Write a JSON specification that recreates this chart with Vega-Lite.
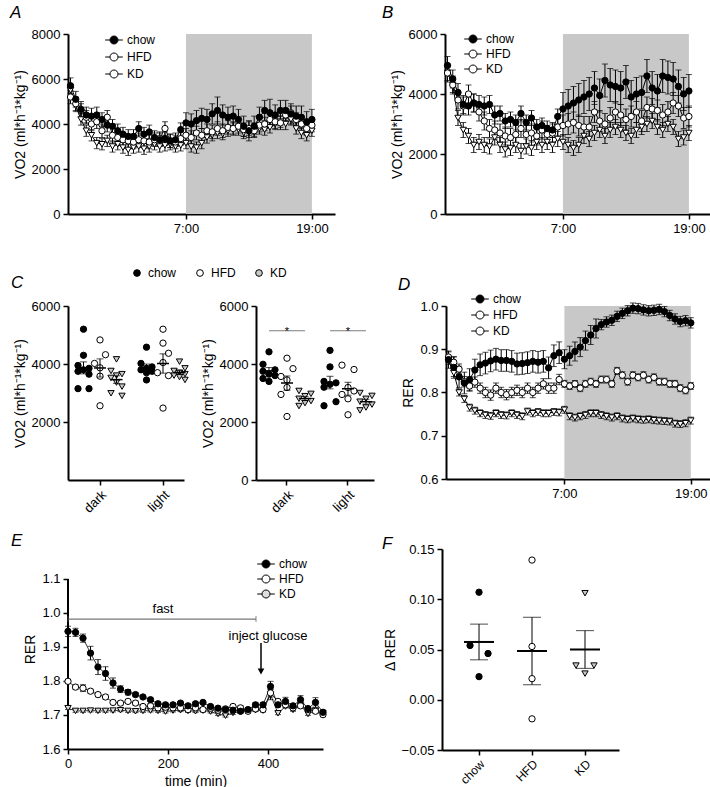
{
"$schema":"https://vega.github.io/schema/vega-lite/v6.json",
"padding":{"left":10,"top":4,"right":0,"bottom":0},
"config":{"font":"Liberation Sans","view":{"stroke":null},
"axis":{"domainColor":"black","domainWidth":2,"tickColor":"black","tickWidth":1.5,"tickSize":5,"labelColor":"black","labelFontSize":13,"titleColor":"black","titleFontSize":14,"titleFontWeight":"normal","grid":false,"labelPadding":3,"labelFlush":false,"labelOverlap":false},
"legend":{"padding":0,"labelFontSize":12,"labelColor":"black","symbolStrokeColor":"black","symbolStrokeWidth":1},
"title":{"fontStyle":"italic","fontWeight":"normal","fontSize":17,"anchor":"start","frame":"group","color":"black"}},
"datasets":{
"A":[
{"t":-11,"g":"KD","v":5500,"e":250},{"t":-10.5,"g":"KD","v":4800,"e":250},{"t":-10,"g":"KD","v":4200,"e":250},{"t":-9.5,"g":"KD","v":3700,"e":250},{"t":-9,"g":"KD","v":3500,"e":250},{"t":-8.5,"g":"KD","v":3150,"e":250},{"t":-8,"g":"KD","v":3100,"e":250},{"t":-7.5,"g":"KD","v":3250,"e":250},{"t":-7,"g":"KD","v":3000,"e":250},{"t":-6.5,"g":"KD","v":3100,"e":250},{"t":-6,"g":"KD","v":2950,"e":250},{"t":-5.5,"g":"KD","v":2850,"e":250},{"t":-5,"g":"KD","v":2950,"e":250},{"t":-4.5,"g":"KD","v":3000,"e":250},{"t":-4,"g":"KD","v":2900,"e":250},{"t":-3.5,"g":"KD","v":3000,"e":250},{"t":-3,"g":"KD","v":3100,"e":250},{"t":-2.5,"g":"KD","v":3000,"e":250},{"t":-2,"g":"KD","v":3050,"e":250},{"t":-1.5,"g":"KD","v":3100,"e":250},{"t":-1,"g":"KD","v":3000,"e":250},{"t":-0.5,"g":"KD","v":3050,"e":250},{"t":0,"g":"KD","v":3150,"e":250},{"t":0.5,"g":"KD","v":3000,"e":250},{"t":1,"g":"KD","v":2950,"e":250},{"t":1.5,"g":"KD","v":3150,"e":250},{"t":2,"g":"KD","v":3400,"e":250},{"t":2.5,"g":"KD","v":3500,"e":250},{"t":3,"g":"KD","v":3600,"e":250},{"t":3.5,"g":"KD","v":3550,"e":250},{"t":4,"g":"KD","v":3700,"e":250},{"t":4.5,"g":"KD","v":3800,"e":250},{"t":5,"g":"KD","v":3750,"e":250},{"t":5.5,"g":"KD","v":3600,"e":250},{"t":6,"g":"KD","v":3650,"e":250},{"t":6.5,"g":"KD","v":3800,"e":250},{"t":7,"g":"KD","v":3800,"e":250},{"t":7.5,"g":"KD","v":3750,"e":250},{"t":8,"g":"KD","v":3850,"e":250},{"t":8.5,"g":"KD","v":4000,"e":250},{"t":9,"g":"KD","v":4100,"e":250},{"t":9.5,"g":"KD","v":4000,"e":250},{"t":10,"g":"KD","v":4200,"e":250},{"t":10.5,"g":"KD","v":3800,"e":250},{"t":11,"g":"KD","v":3600,"e":250},{"t":11.5,"g":"KD","v":3500,"e":250},{"t":12,"g":"KD","v":3700,"e":250},
{"t":-11,"g":"HFD","v":5200,"e":300},{"t":-10.5,"g":"HFD","v":4900,"e":300},{"t":-10,"g":"HFD","v":4600,"e":300},{"t":-9.5,"g":"HFD","v":4300,"e":300},{"t":-9,"g":"HFD","v":4000,"e":300},{"t":-8.5,"g":"HFD","v":4100,"e":300},{"t":-8,"g":"HFD","v":3700,"e":300},{"t":-7.5,"g":"HFD","v":4300,"e":300},{"t":-7,"g":"HFD","v":3500,"e":300},{"t":-6.5,"g":"HFD","v":3400,"e":300},{"t":-6,"g":"HFD","v":3300,"e":300},{"t":-5.5,"g":"HFD","v":3250,"e":300},{"t":-5,"g":"HFD","v":3200,"e":300},{"t":-4.5,"g":"HFD","v":3300,"e":300},{"t":-4,"g":"HFD","v":3250,"e":300},{"t":-3.5,"g":"HFD","v":3200,"e":300},{"t":-3,"g":"HFD","v":3300,"e":300},{"t":-2.5,"g":"HFD","v":3350,"e":300},{"t":-2,"g":"HFD","v":3800,"e":300},{"t":-1.5,"g":"HFD","v":3250,"e":300},{"t":-1,"g":"HFD","v":3200,"e":300},{"t":-0.5,"g":"HFD","v":3350,"e":300},{"t":0,"g":"HFD","v":3500,"e":300},{"t":0.5,"g":"HFD","v":3400,"e":300},{"t":1,"g":"HFD","v":3600,"e":300},{"t":1.5,"g":"HFD","v":3500,"e":300},{"t":2,"g":"HFD","v":3700,"e":300},{"t":2.5,"g":"HFD","v":3650,"e":300},{"t":3,"g":"HFD","v":3800,"e":300},{"t":3.5,"g":"HFD","v":3700,"e":300},{"t":4,"g":"HFD","v":3850,"e":300},{"t":4.5,"g":"HFD","v":3800,"e":300},{"t":5,"g":"HFD","v":3900,"e":300},{"t":5.5,"g":"HFD","v":3750,"e":300},{"t":6,"g":"HFD","v":3800,"e":300},{"t":6.5,"g":"HFD","v":3700,"e":300},{"t":7,"g":"HFD","v":3950,"e":300},{"t":7.5,"g":"HFD","v":4000,"e":300},{"t":8,"g":"HFD","v":4200,"e":300},{"t":8.5,"g":"HFD","v":4100,"e":300},{"t":9,"g":"HFD","v":4050,"e":300},{"t":9.5,"g":"HFD","v":4400,"e":300},{"t":10,"g":"HFD","v":4500,"e":300},{"t":10.5,"g":"HFD","v":4200,"e":300},{"t":11,"g":"HFD","v":4000,"e":300},{"t":11.5,"g":"HFD","v":3800,"e":300},{"t":12,"g":"HFD","v":3950,"e":300},
{"t":-11,"g":"chow","v":5700,"e":350},{"t":-10.5,"g":"chow","v":5100,"e":350},{"t":-10,"g":"chow","v":4650,"e":350},{"t":-9.5,"g":"chow","v":4400,"e":350},{"t":-9,"g":"chow","v":4350,"e":350},{"t":-8.5,"g":"chow","v":4400,"e":350},{"t":-8,"g":"chow","v":4200,"e":300},{"t":-7.5,"g":"chow","v":3950,"e":300},{"t":-7,"g":"chow","v":3900,"e":300},{"t":-6.5,"g":"chow","v":3700,"e":300},{"t":-6,"g":"chow","v":3550,"e":300},{"t":-5.5,"g":"chow","v":3450,"e":300},{"t":-5,"g":"chow","v":3450,"e":300},{"t":-4.5,"g":"chow","v":3800,"e":300},{"t":-4,"g":"chow","v":3550,"e":300},{"t":-3.5,"g":"chow","v":3650,"e":300},{"t":-3,"g":"chow","v":3400,"e":300},{"t":-2.5,"g":"chow","v":3300,"e":300},{"t":-2,"g":"chow","v":3350,"e":300},{"t":-1.5,"g":"chow","v":3250,"e":300},{"t":-1,"g":"chow","v":3300,"e":300},{"t":-0.5,"g":"chow","v":3750,"e":300},{"t":0,"g":"chow","v":4050,"e":450},{"t":0.5,"g":"chow","v":4000,"e":450},{"t":1,"g":"chow","v":4150,"e":450},{"t":1.5,"g":"chow","v":4250,"e":450},{"t":2,"g":"chow","v":4200,"e":450},{"t":2.5,"g":"chow","v":4450,"e":450},{"t":3,"g":"chow","v":4600,"e":600},{"t":3.5,"g":"chow","v":4400,"e":450},{"t":4,"g":"chow","v":4300,"e":450},{"t":4.5,"g":"chow","v":4350,"e":450},{"t":5,"g":"chow","v":4200,"e":450},{"t":5.5,"g":"chow","v":3900,"e":450},{"t":6,"g":"chow","v":3700,"e":450},{"t":6.5,"g":"chow","v":3900,"e":450},{"t":7,"g":"chow","v":4300,"e":450},{"t":7.5,"g":"chow","v":4600,"e":450},{"t":8,"g":"chow","v":4500,"e":600},{"t":8.5,"g":"chow","v":4400,"e":450},{"t":9,"g":"chow","v":4600,"e":450},{"t":9.5,"g":"chow","v":4600,"e":450},{"t":10,"g":"chow","v":4450,"e":450},{"t":10.5,"g":"chow","v":4350,"e":450},{"t":11,"g":"chow","v":4300,"e":500},{"t":11.5,"g":"chow","v":4100,"e":450},{"t":12,"g":"chow","v":4200,"e":450}
],
"B":[
{"t":-11,"g":"KD","v":4700,"e":250},{"t":-10.5,"g":"KD","v":4300,"e":250},{"t":-10,"g":"KD","v":3200,"e":250},{"t":-9.5,"g":"KD","v":2800,"e":250},{"t":-9,"g":"KD","v":2600,"e":250},{"t":-8.5,"g":"KD","v":2300,"e":250},{"t":-8,"g":"KD","v":2400,"e":250},{"t":-7.5,"g":"KD","v":2300,"e":250},{"t":-7,"g":"KD","v":2250,"e":250},{"t":-6.5,"g":"KD","v":2550,"e":250},{"t":-6,"g":"KD","v":2300,"e":250},{"t":-5.5,"g":"KD","v":2150,"e":250},{"t":-5,"g":"KD","v":2200,"e":250},{"t":-4.5,"g":"KD","v":2300,"e":250},{"t":-4,"g":"KD","v":2100,"e":250},{"t":-3.5,"g":"KD","v":2250,"e":250},{"t":-3,"g":"KD","v":2200,"e":250},{"t":-2.5,"g":"KD","v":2400,"e":250},{"t":-2,"g":"KD","v":2300,"e":250},{"t":-1.5,"g":"KD","v":2400,"e":250},{"t":-1,"g":"KD","v":2300,"e":250},{"t":-0.5,"g":"KD","v":2500,"e":250},{"t":0,"g":"KD","v":2400,"e":250},{"t":0.5,"g":"KD","v":2300,"e":250},{"t":1,"g":"KD","v":2200,"e":250},{"t":1.5,"g":"KD","v":2300,"e":250},{"t":2,"g":"KD","v":2600,"e":250},{"t":2.5,"g":"KD","v":2500,"e":250},{"t":3,"g":"KD","v":2700,"e":250},{"t":3.5,"g":"KD","v":2800,"e":250},{"t":4,"g":"KD","v":2600,"e":250},{"t":4.5,"g":"KD","v":2800,"e":250},{"t":5,"g":"KD","v":2900,"e":250},{"t":5.5,"g":"KD","v":2800,"e":250},{"t":6,"g":"KD","v":2700,"e":250},{"t":6.5,"g":"KD","v":2600,"e":250},{"t":7,"g":"KD","v":2800,"e":250},{"t":7.5,"g":"KD","v":2900,"e":250},{"t":8,"g":"KD","v":3000,"e":250},{"t":8.5,"g":"KD","v":3100,"e":250},{"t":9,"g":"KD","v":2900,"e":250},{"t":9.5,"g":"KD","v":2800,"e":250},{"t":10,"g":"KD","v":3000,"e":250},{"t":10.5,"g":"KD","v":2900,"e":250},{"t":11,"g":"KD","v":2500,"e":250},{"t":11.5,"g":"KD","v":2550,"e":250},{"t":12,"g":"KD","v":2700,"e":250},
{"t":-11,"g":"HFD","v":4700,"e":300},{"t":-10.5,"g":"HFD","v":4300,"e":300},{"t":-10,"g":"HFD","v":3800,"e":300},{"t":-9.5,"g":"HFD","v":3600,"e":300},{"t":-9,"g":"HFD","v":4000,"e":300},{"t":-8.5,"g":"HFD","v":3700,"e":300},{"t":-8,"g":"HFD","v":3400,"e":300},{"t":-7.5,"g":"HFD","v":3100,"e":300},{"t":-7,"g":"HFD","v":2850,"e":300},{"t":-6.5,"g":"HFD","v":2800,"e":300},{"t":-6,"g":"HFD","v":2700,"e":300},{"t":-5.5,"g":"HFD","v":2600,"e":300},{"t":-5,"g":"HFD","v":2550,"e":300},{"t":-4.5,"g":"HFD","v":2650,"e":300},{"t":-4,"g":"HFD","v":2850,"e":300},{"t":-3.5,"g":"HFD","v":2650,"e":300},{"t":-3,"g":"HFD","v":2700,"e":300},{"t":-2.5,"g":"HFD","v":2600,"e":300},{"t":-2,"g":"HFD","v":2800,"e":300},{"t":-1.5,"g":"HFD","v":2650,"e":300},{"t":-1,"g":"HFD","v":2700,"e":300},{"t":-0.5,"g":"HFD","v":2900,"e":300},{"t":0,"g":"HFD","v":2950,"e":350},{"t":0.5,"g":"HFD","v":3000,"e":350},{"t":1,"g":"HFD","v":3050,"e":350},{"t":1.5,"g":"HFD","v":2950,"e":350},{"t":2,"g":"HFD","v":2900,"e":350},{"t":2.5,"g":"HFD","v":2900,"e":350},{"t":3,"g":"HFD","v":3400,"e":350},{"t":3.5,"g":"HFD","v":3100,"e":350},{"t":4,"g":"HFD","v":3000,"e":350},{"t":4.5,"g":"HFD","v":3200,"e":350},{"t":5,"g":"HFD","v":3400,"e":350},{"t":5.5,"g":"HFD","v":3300,"e":350},{"t":6,"g":"HFD","v":3150,"e":350},{"t":6.5,"g":"HFD","v":3250,"e":350},{"t":7,"g":"HFD","v":3400,"e":350},{"t":7.5,"g":"HFD","v":3100,"e":350},{"t":8,"g":"HFD","v":3550,"e":350},{"t":8.5,"g":"HFD","v":3500,"e":350},{"t":9,"g":"HFD","v":3450,"e":350},{"t":9.5,"g":"HFD","v":3300,"e":350},{"t":10,"g":"HFD","v":3400,"e":350},{"t":10.5,"g":"HFD","v":3700,"e":350},{"t":11,"g":"HFD","v":3600,"e":350},{"t":11.5,"g":"HFD","v":3200,"e":350},{"t":12,"g":"HFD","v":3250,"e":350},
{"t":-11,"g":"chow","v":4950,"e":300},{"t":-10.5,"g":"chow","v":4500,"e":300},{"t":-10,"g":"chow","v":4050,"e":300},{"t":-9.5,"g":"chow","v":3650,"e":300},{"t":-9,"g":"chow","v":3600,"e":300},{"t":-8.5,"g":"chow","v":3700,"e":300},{"t":-8,"g":"chow","v":3650,"e":300},{"t":-7.5,"g":"chow","v":3600,"e":300},{"t":-7,"g":"chow","v":3650,"e":300},{"t":-6.5,"g":"chow","v":3300,"e":300},{"t":-6,"g":"chow","v":3350,"e":250},{"t":-5.5,"g":"chow","v":3100,"e":250},{"t":-5,"g":"chow","v":3150,"e":250},{"t":-4.5,"g":"chow","v":3050,"e":250},{"t":-4,"g":"chow","v":3350,"e":250},{"t":-3.5,"g":"chow","v":3050,"e":250},{"t":-3,"g":"chow","v":3200,"e":250},{"t":-2.5,"g":"chow","v":2900,"e":250},{"t":-2,"g":"chow","v":2950,"e":250},{"t":-1.5,"g":"chow","v":2850,"e":250},{"t":-1,"g":"chow","v":2800,"e":250},{"t":-0.5,"g":"chow","v":3250,"e":250},{"t":0,"g":"chow","v":3500,"e":550},{"t":0.5,"g":"chow","v":3600,"e":550},{"t":1,"g":"chow","v":3700,"e":550},{"t":1.5,"g":"chow","v":3800,"e":550},{"t":2,"g":"chow","v":3900,"e":550},{"t":2.5,"g":"chow","v":4000,"e":550},{"t":3,"g":"chow","v":4200,"e":550},{"t":3.5,"g":"chow","v":3950,"e":550},{"t":4,"g":"chow","v":4450,"e":550},{"t":4.5,"g":"chow","v":4300,"e":550},{"t":5,"g":"chow","v":4250,"e":550},{"t":5.5,"g":"chow","v":4200,"e":550},{"t":6,"g":"chow","v":4400,"e":550},{"t":6.5,"g":"chow","v":3900,"e":550},{"t":7,"g":"chow","v":4000,"e":550},{"t":7.5,"g":"chow","v":4050,"e":550},{"t":8,"g":"chow","v":4600,"e":550},{"t":8.5,"g":"chow","v":4200,"e":550},{"t":9,"g":"chow","v":4100,"e":550},{"t":9.5,"g":"chow","v":4600,"e":550},{"t":10,"g":"chow","v":4550,"e":550},{"t":10.5,"g":"chow","v":4500,"e":550},{"t":11,"g":"chow","v":4250,"e":550},{"t":11.5,"g":"chow","v":4000,"e":550},{"t":12,"g":"chow","v":4100,"e":550}
],
"D":[
{"t":-11,"g":"KD","v":0.873,"e":0.008},{"t":-10.5,"g":"KD","v":0.845,"e":0.008},{"t":-10,"g":"KD","v":0.8,"e":0.008},{"t":-9.5,"g":"KD","v":0.785,"e":0.008},{"t":-9,"g":"KD","v":0.765,"e":0.008},{"t":-8.5,"g":"KD","v":0.758,"e":0.008},{"t":-8,"g":"KD","v":0.752,"e":0.008},{"t":-7.5,"g":"KD","v":0.748,"e":0.008},{"t":-7,"g":"KD","v":0.746,"e":0.008},{"t":-6.5,"g":"KD","v":0.752,"e":0.008},{"t":-6,"g":"KD","v":0.748,"e":0.008},{"t":-5.5,"g":"KD","v":0.747,"e":0.008},{"t":-5,"g":"KD","v":0.752,"e":0.008},{"t":-4.5,"g":"KD","v":0.748,"e":0.008},{"t":-4,"g":"KD","v":0.745,"e":0.008},{"t":-3.5,"g":"KD","v":0.756,"e":0.008},{"t":-3,"g":"KD","v":0.752,"e":0.008},{"t":-2.5,"g":"KD","v":0.755,"e":0.008},{"t":-2,"g":"KD","v":0.752,"e":0.008},{"t":-1.5,"g":"KD","v":0.752,"e":0.008},{"t":-1,"g":"KD","v":0.755,"e":0.008},{"t":-0.5,"g":"KD","v":0.754,"e":0.008},{"t":0,"g":"KD","v":0.76,"e":0.008},{"t":0.5,"g":"KD","v":0.745,"e":0.008},{"t":1,"g":"KD","v":0.742,"e":0.008},{"t":1.5,"g":"KD","v":0.745,"e":0.008},{"t":2,"g":"KD","v":0.748,"e":0.008},{"t":2.5,"g":"KD","v":0.752,"e":0.008},{"t":3,"g":"KD","v":0.752,"e":0.008},{"t":3.5,"g":"KD","v":0.748,"e":0.008},{"t":4,"g":"KD","v":0.745,"e":0.008},{"t":4.5,"g":"KD","v":0.742,"e":0.008},{"t":5,"g":"KD","v":0.745,"e":0.008},{"t":5.5,"g":"KD","v":0.74,"e":0.008},{"t":6,"g":"KD","v":0.738,"e":0.008},{"t":6.5,"g":"KD","v":0.74,"e":0.008},{"t":7,"g":"KD","v":0.738,"e":0.008},{"t":7.5,"g":"KD","v":0.737,"e":0.008},{"t":8,"g":"KD","v":0.738,"e":0.008},{"t":8.5,"g":"KD","v":0.736,"e":0.008},{"t":9,"g":"KD","v":0.735,"e":0.008},{"t":9.5,"g":"KD","v":0.734,"e":0.008},{"t":10,"g":"KD","v":0.733,"e":0.008},{"t":10.5,"g":"KD","v":0.728,"e":0.008},{"t":11,"g":"KD","v":0.727,"e":0.008},{"t":11.5,"g":"KD","v":0.729,"e":0.008},{"t":12,"g":"KD","v":0.735,"e":0.008},
{"t":-11,"g":"HFD","v":0.882,"e":0.012},{"t":-10.5,"g":"HFD","v":0.87,"e":0.012},{"t":-10,"g":"HFD","v":0.854,"e":0.012},{"t":-9.5,"g":"HFD","v":0.825,"e":0.012},{"t":-9,"g":"HFD","v":0.815,"e":0.012},{"t":-8.5,"g":"HFD","v":0.824,"e":0.012},{"t":-8,"g":"HFD","v":0.81,"e":0.012},{"t":-7.5,"g":"HFD","v":0.8,"e":0.012},{"t":-7,"g":"HFD","v":0.794,"e":0.012},{"t":-6.5,"g":"HFD","v":0.81,"e":0.012},{"t":-6,"g":"HFD","v":0.8,"e":0.012},{"t":-5.5,"g":"HFD","v":0.795,"e":0.012},{"t":-5,"g":"HFD","v":0.8,"e":0.012},{"t":-4.5,"g":"HFD","v":0.805,"e":0.012},{"t":-4,"g":"HFD","v":0.8,"e":0.012},{"t":-3.5,"g":"HFD","v":0.81,"e":0.012},{"t":-3,"g":"HFD","v":0.8,"e":0.012},{"t":-2.5,"g":"HFD","v":0.81,"e":0.012},{"t":-2,"g":"HFD","v":0.82,"e":0.012},{"t":-1.5,"g":"HFD","v":0.81,"e":0.012},{"t":-1,"g":"HFD","v":0.81,"e":0.012},{"t":-0.5,"g":"HFD","v":0.83,"e":0.012},{"t":0,"g":"HFD","v":0.82,"e":0.008},{"t":0.5,"g":"HFD","v":0.815,"e":0.008},{"t":1,"g":"HFD","v":0.82,"e":0.008},{"t":1.5,"g":"HFD","v":0.81,"e":0.008},{"t":2,"g":"HFD","v":0.82,"e":0.008},{"t":2.5,"g":"HFD","v":0.825,"e":0.008},{"t":3,"g":"HFD","v":0.82,"e":0.008},{"t":3.5,"g":"HFD","v":0.83,"e":0.008},{"t":4,"g":"HFD","v":0.83,"e":0.008},{"t":4.5,"g":"HFD","v":0.82,"e":0.008},{"t":5,"g":"HFD","v":0.85,"e":0.008},{"t":5.5,"g":"HFD","v":0.84,"e":0.008},{"t":6,"g":"HFD","v":0.825,"e":0.008},{"t":6.5,"g":"HFD","v":0.84,"e":0.008},{"t":7,"g":"HFD","v":0.835,"e":0.008},{"t":7.5,"g":"HFD","v":0.84,"e":0.008},{"t":8,"g":"HFD","v":0.83,"e":0.008},{"t":8.5,"g":"HFD","v":0.835,"e":0.008},{"t":9,"g":"HFD","v":0.825,"e":0.008},{"t":9.5,"g":"HFD","v":0.825,"e":0.008},{"t":10,"g":"HFD","v":0.82,"e":0.008},{"t":10.5,"g":"HFD","v":0.82,"e":0.008},{"t":11,"g":"HFD","v":0.81,"e":0.008},{"t":11.5,"g":"HFD","v":0.805,"e":0.008},{"t":12,"g":"HFD","v":0.815,"e":0.008},
{"t":-11,"g":"chow","v":0.876,"e":0.02},{"t":-10.5,"g":"chow","v":0.858,"e":0.025},{"t":-10,"g":"chow","v":0.836,"e":0.025},{"t":-9.5,"g":"chow","v":0.822,"e":0.025},{"t":-9,"g":"chow","v":0.83,"e":0.025},{"t":-8.5,"g":"chow","v":0.852,"e":0.025},{"t":-8,"g":"chow","v":0.864,"e":0.025},{"t":-7.5,"g":"chow","v":0.868,"e":0.025},{"t":-7,"g":"chow","v":0.873,"e":0.025},{"t":-6.5,"g":"chow","v":0.877,"e":0.025},{"t":-6,"g":"chow","v":0.874,"e":0.025},{"t":-5.5,"g":"chow","v":0.874,"e":0.025},{"t":-5,"g":"chow","v":0.872,"e":0.025},{"t":-4.5,"g":"chow","v":0.866,"e":0.025},{"t":-4,"g":"chow","v":0.867,"e":0.025},{"t":-3.5,"g":"chow","v":0.869,"e":0.025},{"t":-3,"g":"chow","v":0.872,"e":0.025},{"t":-2.5,"g":"chow","v":0.87,"e":0.025},{"t":-2,"g":"chow","v":0.872,"e":0.025},{"t":-1.5,"g":"chow","v":0.857,"e":0.025},{"t":-1,"g":"chow","v":0.885,"e":0.025},{"t":-0.5,"g":"chow","v":0.892,"e":0.025},{"t":0,"g":"chow","v":0.877,"e":0.022},{"t":0.5,"g":"chow","v":0.885,"e":0.022},{"t":1,"g":"chow","v":0.895,"e":0.022},{"t":1.5,"g":"chow","v":0.905,"e":0.022},{"t":2,"g":"chow","v":0.92,"e":0.022},{"t":2.5,"g":"chow","v":0.933,"e":0.022},{"t":3,"g":"chow","v":0.948,"e":0.022},{"t":3.5,"g":"chow","v":0.957,"e":0.012},{"t":4,"g":"chow","v":0.963,"e":0.012},{"t":4.5,"g":"chow","v":0.967,"e":0.012},{"t":5,"g":"chow","v":0.976,"e":0.012},{"t":5.5,"g":"chow","v":0.983,"e":0.012},{"t":6,"g":"chow","v":0.989,"e":0.012},{"t":6.5,"g":"chow","v":0.995,"e":0.012},{"t":7,"g":"chow","v":0.994,"e":0.012},{"t":7.5,"g":"chow","v":0.991,"e":0.012},{"t":8,"g":"chow","v":0.989,"e":0.012},{"t":8.5,"g":"chow","v":0.99,"e":0.012},{"t":9,"g":"chow","v":0.992,"e":0.012},{"t":9.5,"g":"chow","v":0.987,"e":0.012},{"t":10,"g":"chow","v":0.978,"e":0.012},{"t":10.5,"g":"chow","v":0.97,"e":0.012},{"t":11,"g":"chow","v":0.964,"e":0.012},{"t":11.5,"g":"chow","v":0.966,"e":0.012},{"t":12,"g":"chow","v":0.961,"e":0.012}
],
"E":[
{"t":0,"g":"KD","v":0.72,"e":0.004},{"t":15,"g":"KD","v":0.712,"e":0.004},{"t":30,"g":"KD","v":0.712,"e":0.004},{"t":45,"g":"KD","v":0.713,"e":0.004},{"t":60,"g":"KD","v":0.712,"e":0.004},{"t":75,"g":"KD","v":0.712,"e":0.004},{"t":90,"g":"KD","v":0.713,"e":0.004},{"t":105,"g":"KD","v":0.714,"e":0.004},{"t":120,"g":"KD","v":0.712,"e":0.004},{"t":135,"g":"KD","v":0.711,"e":0.004},{"t":150,"g":"KD","v":0.712,"e":0.004},{"t":165,"g":"KD","v":0.713,"e":0.004},{"t":180,"g":"KD","v":0.712,"e":0.004},{"t":195,"g":"KD","v":0.71,"e":0.004},{"t":210,"g":"KD","v":0.713,"e":0.004},{"t":225,"g":"KD","v":0.714,"e":0.004},{"t":240,"g":"KD","v":0.712,"e":0.004},{"t":255,"g":"KD","v":0.711,"e":0.004},{"t":270,"g":"KD","v":0.713,"e":0.004},{"t":285,"g":"KD","v":0.71,"e":0.004},{"t":300,"g":"KD","v":0.703,"e":0.004},{"t":315,"g":"KD","v":0.698,"e":0.004},{"t":330,"g":"KD","v":0.706,"e":0.004},{"t":345,"g":"KD","v":0.71,"e":0.004},{"t":360,"g":"KD","v":0.712,"e":0.004},{"t":375,"g":"KD","v":0.714,"e":0.004},{"t":390,"g":"KD","v":0.713,"e":0.004},{"t":405,"g":"KD","v":0.76,"e":0.015},{"t":420,"g":"KD","v":0.705,"e":0.004},{"t":435,"g":"KD","v":0.725,"e":0.004},{"t":450,"g":"KD","v":0.715,"e":0.004},{"t":465,"g":"KD","v":0.728,"e":0.004},{"t":480,"g":"KD","v":0.703,"e":0.004},{"t":495,"g":"KD","v":0.713,"e":0.004},{"t":510,"g":"KD","v":0.705,"e":0.004},
{"t":0,"g":"HFD","v":0.799,"e":0.006},{"t":15,"g":"HFD","v":0.782,"e":0.006},{"t":30,"g":"HFD","v":0.779,"e":0.01},{"t":45,"g":"HFD","v":0.77,"e":0.006},{"t":60,"g":"HFD","v":0.76,"e":0.006},{"t":75,"g":"HFD","v":0.753,"e":0.006},{"t":90,"g":"HFD","v":0.737,"e":0.006},{"t":105,"g":"HFD","v":0.735,"e":0.006},{"t":120,"g":"HFD","v":0.74,"e":0.006},{"t":135,"g":"HFD","v":0.735,"e":0.006},{"t":150,"g":"HFD","v":0.725,"e":0.006},{"t":165,"g":"HFD","v":0.727,"e":0.006},{"t":180,"g":"HFD","v":0.721,"e":0.006},{"t":195,"g":"HFD","v":0.723,"e":0.006},{"t":210,"g":"HFD","v":0.721,"e":0.006},{"t":225,"g":"HFD","v":0.721,"e":0.006},{"t":240,"g":"HFD","v":0.716,"e":0.006},{"t":255,"g":"HFD","v":0.721,"e":0.006},{"t":270,"g":"HFD","v":0.716,"e":0.006},{"t":285,"g":"HFD","v":0.72,"e":0.006},{"t":300,"g":"HFD","v":0.714,"e":0.006},{"t":315,"g":"HFD","v":0.718,"e":0.006},{"t":330,"g":"HFD","v":0.725,"e":0.006},{"t":345,"g":"HFD","v":0.721,"e":0.006},{"t":360,"g":"HFD","v":0.711,"e":0.006},{"t":375,"g":"HFD","v":0.718,"e":0.006},{"t":390,"g":"HFD","v":0.716,"e":0.006},{"t":405,"g":"HFD","v":0.765,"e":0.012},{"t":420,"g":"HFD","v":0.74,"e":0.006},{"t":435,"g":"HFD","v":0.73,"e":0.006},{"t":450,"g":"HFD","v":0.721,"e":0.006},{"t":465,"g":"HFD","v":0.727,"e":0.006},{"t":480,"g":"HFD","v":0.716,"e":0.006},{"t":495,"g":"HFD","v":0.711,"e":0.006},{"t":510,"g":"HFD","v":0.701,"e":0.006},
{"t":0,"g":"chow","v":0.946,"e":0.015},{"t":15,"g":"chow","v":0.943,"e":0.012},{"t":30,"g":"chow","v":0.926,"e":0.012},{"t":45,"g":"chow","v":0.882,"e":0.02},{"t":60,"g":"chow","v":0.841,"e":0.022},{"t":75,"g":"chow","v":0.822,"e":0.02},{"t":90,"g":"chow","v":0.794,"e":0.015},{"t":105,"g":"chow","v":0.776,"e":0.01},{"t":120,"g":"chow","v":0.767,"e":0.008},{"t":135,"g":"chow","v":0.76,"e":0.006},{"t":150,"g":"chow","v":0.753,"e":0.005},{"t":165,"g":"chow","v":0.745,"e":0.005},{"t":180,"g":"chow","v":0.733,"e":0.005},{"t":195,"g":"chow","v":0.73,"e":0.005},{"t":210,"g":"chow","v":0.73,"e":0.005},{"t":225,"g":"chow","v":0.735,"e":0.005},{"t":240,"g":"chow","v":0.727,"e":0.005},{"t":255,"g":"chow","v":0.733,"e":0.005},{"t":270,"g":"chow","v":0.737,"e":0.005},{"t":285,"g":"chow","v":0.725,"e":0.005},{"t":300,"g":"chow","v":0.72,"e":0.005},{"t":315,"g":"chow","v":0.716,"e":0.005},{"t":330,"g":"chow","v":0.714,"e":0.005},{"t":345,"g":"chow","v":0.711,"e":0.005},{"t":360,"g":"chow","v":0.716,"e":0.005},{"t":375,"g":"chow","v":0.73,"e":0.006},{"t":390,"g":"chow","v":0.73,"e":0.006},{"t":405,"g":"chow","v":0.784,"e":0.015},{"t":420,"g":"chow","v":0.73,"e":0.006},{"t":435,"g":"chow","v":0.74,"e":0.012},{"t":450,"g":"chow","v":0.727,"e":0.006},{"t":465,"g":"chow","v":0.745,"e":0.012},{"t":480,"g":"chow","v":0.719,"e":0.006},{"t":495,"g":"chow","v":0.737,"e":0.014},{"t":510,"g":"chow","v":0.708,"e":0.006}
],
"C1":[
{"cat":"dark","g":"chow","s":"chow","v":5200},{"cat":"dark","g":"chow","s":"chow","v":4300},{"cat":"dark","g":"chow","s":"chow-l","v":3950},{"cat":"dark","g":"chow","s":"chow-r","v":3850},{"cat":"dark","g":"chow","s":"chow","v":3800},{"cat":"dark","g":"chow","s":"chow-l","v":3750},{"cat":"dark","g":"chow","s":"chow-r","v":3650},{"cat":"dark","g":"chow","s":"chow-l","v":3150},{"cat":"dark","g":"chow","s":"chow-r","v":3150},
{"cat":"dark","g":"HFD","s":"HFD","v":4830},{"cat":"dark","g":"HFD","s":"HFD-r","v":4320},{"cat":"dark","g":"HFD","s":"HFD-l","v":4020},{"cat":"dark","g":"HFD","s":"HFD","v":3870},{"cat":"dark","g":"HFD","s":"HFD","v":3580},{"cat":"dark","g":"HFD","s":"HFD","v":2560},
{"cat":"dark","g":"KD","s":"KD","v":4160},{"cat":"dark","g":"KD","s":"KD-l","v":3760},{"cat":"dark","g":"KD","s":"KD-r","v":3650},{"cat":"dark","g":"KD","s":"KD","v":3600},{"cat":"dark","g":"KD","s":"KD-l","v":3520},{"cat":"dark","g":"KD","s":"KD","v":3360},{"cat":"dark","g":"KD","s":"KD-r","v":3220},{"cat":"dark","g":"KD","s":"KD-l","v":2990},{"cat":"dark","g":"KD","s":"KD-r","v":2900},
{"cat":"light","g":"chow","s":"chow","v":4580},{"cat":"light","g":"chow","s":"chow-l","v":4020},{"cat":"light","g":"chow","s":"chow-r","v":3900},{"cat":"light","g":"chow","s":"chow","v":3850},{"cat":"light","g":"chow","s":"chow-l","v":3800},{"cat":"light","g":"chow","s":"chow-r","v":3750},{"cat":"light","g":"chow","s":"chow","v":3700},{"cat":"light","g":"chow","s":"chow","v":3450},
{"cat":"light","g":"HFD","s":"HFD","v":5200},{"cat":"light","g":"HFD","s":"HFD","v":4720},{"cat":"light","g":"HFD","s":"HFD-r","v":4370},{"cat":"light","g":"HFD","s":"HFD","v":4050},{"cat":"light","g":"HFD","s":"HFD-l","v":3700},{"cat":"light","g":"HFD","s":"HFD-r","v":3600},{"cat":"light","g":"HFD","s":"HFD","v":2480},
{"cat":"light","g":"KD","s":"KD","v":4080},{"cat":"light","g":"KD","s":"KD-r","v":3850},{"cat":"light","g":"KD","s":"KD-l","v":3760},{"cat":"light","g":"KD","s":"KD","v":3700},{"cat":"light","g":"KD","s":"KD-r","v":3650},{"cat":"light","g":"KD","s":"KD-l","v":3600},{"cat":"light","g":"KD","s":"KD","v":3550},{"cat":"light","g":"KD","s":"KD-r","v":3450}
],
"C2":[
{"cat":"dark","g":"chow","s":"chow","v":4420},{"cat":"dark","g":"chow","s":"chow-l","v":3990},{"cat":"dark","g":"chow","s":"chow-r","v":3800},{"cat":"dark","g":"chow","s":"chow-l","v":3750},{"cat":"dark","g":"chow","s":"chow","v":3650},{"cat":"dark","g":"chow","s":"chow-r","v":3600},{"cat":"dark","g":"chow","s":"chow-l","v":3500},{"cat":"dark","g":"chow","s":"chow","v":3400},
{"cat":"dark","g":"HFD","s":"HFD","v":4200},{"cat":"dark","g":"HFD","s":"HFD-r","v":3840},{"cat":"dark","g":"HFD","s":"HFD-l","v":3570},{"cat":"dark","g":"HFD","s":"HFD","v":3450},{"cat":"dark","g":"HFD","s":"HFD","v":3190},{"cat":"dark","g":"HFD","s":"HFD-l","v":2950},{"cat":"dark","g":"HFD","s":"HFD","v":2190},
{"cat":"dark","g":"KD","s":"KD-l","v":3070},{"cat":"dark","g":"KD","s":"KD-r","v":2970},{"cat":"dark","g":"KD","s":"KD","v":2890},{"cat":"dark","g":"KD","s":"KD-l","v":2800},{"cat":"dark","g":"KD","s":"KD-r","v":2720},{"cat":"dark","g":"KD","s":"KD","v":2650},{"cat":"dark","g":"KD","s":"KD-l","v":2550},
{"cat":"light","g":"chow","s":"chow","v":4470},{"cat":"light","g":"chow","s":"chow","v":3900},{"cat":"light","g":"chow","s":"chow-l","v":3400},{"cat":"light","g":"chow","s":"chow-r","v":3350},{"cat":"light","g":"chow","s":"chow","v":3300},{"cat":"light","g":"chow","s":"chow-l","v":3200},{"cat":"light","g":"chow","s":"chow-r","v":2700},{"cat":"light","g":"chow","s":"chow-l","v":2560},
{"cat":"light","g":"HFD","s":"HFD-l","v":3960},{"cat":"light","g":"HFD","s":"HFD-r","v":3810},{"cat":"light","g":"HFD","s":"HFD","v":3190},{"cat":"light","g":"HFD","s":"HFD-r","v":3070},{"cat":"light","g":"HFD","s":"HFD-l","v":2950},{"cat":"light","g":"HFD","s":"HFD","v":2800},{"cat":"light","g":"HFD","s":"HFD","v":2250},
{"cat":"light","g":"KD","s":"KD-l","v":3000},{"cat":"light","g":"KD","s":"KD-r","v":2900},{"cat":"light","g":"KD","s":"KD","v":2800},{"cat":"light","g":"KD","s":"KD-l","v":2700},{"cat":"light","g":"KD","s":"KD-r","v":2600},{"cat":"light","g":"KD","s":"KD","v":2500},{"cat":"light","g":"KD","s":"KD-l","v":2400}
],
"F":[
{"g":"chow","j":"c","v":0.107},{"g":"chow","j":"l","v":0.054},{"g":"chow","j":"r","v":0.046},{"g":"chow","j":"c","v":0.023},
{"g":"HFD","j":"c","v":0.139},{"g":"HFD","j":"c","v":0.053},{"g":"HFD","j":"c","v":0.021},{"g":"HFD","j":"c","v":-0.019},
{"g":"KD","j":"c","v":0.106},{"g":"KD","j":"l","v":0.034},{"g":"KD","j":"r","v":0.034},{"g":"KD","j":"c","v":0.026}
]
},
"resolve":{"scale":{"shape":"independent","fill":"independent","xOffset":"independent"},"legend":{"shape":"independent","fill":"independent"}},
"spacing":16,
"vconcat":[
{"hconcat":[
{"width":267,"height":180,"title":{"text":"A","dx":-58,"offset":6},
"encoding":{"x":{"field":"t","type":"quantitative","scale":{"domain":[-11.24,14.2],"nice":false,"zero":false},"axis":{"values":[0,12],"labelExpr":"datum.value==0?'7:00':'19:00'","title":null}},
"y":{"field":"v","type":"quantitative","scale":{"domain":[0,8000],"nice":false},"axis":{"values":[0,2000,4000,6000,8000],"format":"d","title":"VO2 (ml*h⁻¹*kg⁻¹)"}}},
"layer":[
{"data":{"values":[{"t":0,"t2":12,"v":0,"v2":8000}]},"mark":{"type":"rect","color":"#c8c8c8"},"encoding":{"x2":{"field":"t2"},"y2":{"field":"v2"}}},
{"data":{"name":"A"},"mark":{"type":"errorbar","orient":"vertical","ticks":{"size":6},"color":"black"},"encoding":{"yError":{"field":"e"}}},
{"data":{"name":"A"},"mark":{"type":"line","color":"black","strokeWidth":1},"encoding":{"detail":{"field":"g"}}},
{"data":{"name":"A"},"mark":{"type":"point","filled":true,"size":40,"stroke":"black","strokeWidth":1,"opacity":1},
"encoding":{"shape":{"field":"g","type":"nominal","scale":{"range":["circle","triangle-down","circle"]},"legend":null},
"fill":{"field":"g","type":"nominal","scale":{"domain":["chow","HFD","KD"],"range":["black","white","white"]},
"legend":{"orient":"none","legendX":40,"legendY":0,"title":null,"labelOffset":7,"rowPadding":5,"symbolSize":64,"symbolType":"M-2.2,0L-1,0M1,0L2.2,0M1,0A1,1,0,1,1,-1,0A1,1,0,1,1,1,0Z","encode":{"symbols":{"shape":{"condition":{"test":"datum.value==='KD'","value":"M-2.2,-0.3L-0.9,-0.3M0.9,-0.3L2.2,-0.3M-1.05,-0.8L1.05,-0.8L0,0.95Z"},"value":"M-2.2,0L-1,0M1,0L2.2,0M1,0A1,1,0,1,1,-1,0A1,1,0,1,1,1,0Z"},"stroke":{"value":"black"},"strokeWidth":{"value":1}}}}}}}
]},
{"width":267,"height":180,"title":{"text":"B","dx":-63,"offset":6},
"encoding":{"x":{"field":"t","type":"quantitative","scale":{"domain":[-11.24,14.2],"nice":false,"zero":false},"axis":{"values":[0,12],"labelExpr":"datum.value==0?'7:00':'19:00'","title":null}},
"y":{"field":"v","type":"quantitative","scale":{"domain":[0,6000],"nice":false},"axis":{"values":[0,2000,4000,6000],"format":"d","title":"VO2 (ml*h⁻¹*kg⁻¹)"}}},
"layer":[
{"data":{"values":[{"t":0,"t2":12,"v":0,"v2":6000}]},"mark":{"type":"rect","color":"#c8c8c8"},"encoding":{"x2":{"field":"t2"},"y2":{"field":"v2"}}},
{"data":{"name":"B"},"mark":{"type":"errorbar","orient":"vertical","ticks":{"size":6},"color":"black"},"encoding":{"yError":{"field":"e"}}},
{"data":{"name":"B"},"mark":{"type":"line","color":"black","strokeWidth":1},"encoding":{"detail":{"field":"g"}}},
{"data":{"name":"B"},"mark":{"type":"point","filled":true,"size":40,"stroke":"black","strokeWidth":1,"opacity":1},
"encoding":{"shape":{"field":"g","type":"nominal","scale":{"range":["circle","triangle-down","circle"]},"legend":null},
"fill":{"field":"g","type":"nominal","scale":{"domain":["chow","HFD","KD"],"range":["black","white","white"]},
"legend":{"orient":"none","legendX":22,"legendY":-1,"title":null,"labelOffset":7,"rowPadding":3,"symbolSize":64,"symbolType":"M-2.2,0L-1,0M1,0L2.2,0M1,0A1,1,0,1,1,-1,0A1,1,0,1,1,1,0Z","encode":{"symbols":{"shape":{"condition":{"test":"datum.value==='KD'","value":"M-2.2,-0.3L-0.9,-0.3M0.9,-0.3L2.2,-0.3M-1.05,-0.8L1.05,-0.8L0,0.95Z"},"value":"M-2.2,0L-1,0M1,0L2.2,0M1,0A1,1,0,1,1,-1,0A1,1,0,1,1,1,0Z"},"stroke":{"value":"black"},"strokeWidth":{"value":1}}}}}}}
]}
],"spacing":110,"bounds":"flush","resolve":{"scale":{"shape":"independent","fill":"independent","xOffset":"independent"},"legend":{"shape":"independent","fill":"independent"}}},
{"hconcat":[
{"width":116,"height":174,"title":{"text":"C","dx":-57,"offset":-41},"data":{"name":"C1"},
"encoding":{"x":{"field":"cat","type":"nominal","scale":{"type":"band","domain":["dark","light"],"paddingInner":0.5,"paddingOuter":0.1706,"align":0.756},"axis":{"labelAngle":-45,"title":null}},
"y":{"field":"v","type":"quantitative","scale":{"domain":[0,6000],"nice":false},"axis":{"values":[2000,4000,6000],"format":"d","title":"VO2 (ml*h⁻¹*kg⁻¹)"}}},
"layer":[
{"mark":{"type":"point","filled":true,"size":40,"stroke":"black","strokeWidth":1,"opacity":1},
"encoding":{"xOffset":{"field":"s","type":"nominal","scale":{"type":"point","domain":["chow-l","chow","chow-r","HFD-l","HFD","HFD-r","KD-l","KD","KD-r"],"range":[-6.25,37.75],"padding":0}},
"shape":{"field":"g","type":"nominal","scale":{"range":["circle","triangle-down","circle"]},"legend":null},
"fill":{"field":"g","type":"nominal","scale":{"domain":["chow","HFD","KD"],"range":["black","white","#c8c8c8"]},"legend":{"orient":"none","legendX":47,"legendY":-55,"padding":16,"direction":"horizontal","title":null,"columnPadding":17,"labelOffset":5,"symbolSize":45,"encode":{"symbols":{"shape":{"condition":{"test":"datum.value==='KD'","value":"triangle-down"},"value":"circle"},"stroke":{"value":"black"},"strokeWidth":{"value":1}}}}}}},
{"mark":{"type":"tick","size":12,"thickness":1.5,"color":"black"},"encoding":{"xOffset":{"field":"g","type":"nominal"},"y":{"aggregate":"mean","field":"v","type":"quantitative"}}},
{"mark":{"type":"errorbar","extent":"stderr","ticks":{"size":7},"color":"black"},"encoding":{"xOffset":{"field":"g","type":"nominal"}}}
]},
{"width":118,"height":174,"data":{"name":"C2"},
"encoding":{"x":{"field":"cat","type":"nominal","scale":{"type":"band","domain":["dark","light"],"paddingInner":0.5,"paddingOuter":0.2172,"align":0.594},"axis":{"labelAngle":-45,"title":null}},
"y":{"field":"v","type":"quantitative","scale":{"domain":[0,6000],"nice":false},"axis":{"values":[0,2000,4000,6000],"format":"d","title":"VO2 (ml*h⁻¹*kg⁻¹)"}}},
"layer":[
{"mark":{"type":"point","filled":true,"size":40,"stroke":"black","strokeWidth":1,"opacity":1},
"encoding":{"xOffset":{"field":"s","type":"nominal","scale":{"type":"point","domain":["chow-l","chow","chow-r","HFD-l","HFD","HFD-r","KD-l","KD","KD-r"],"range":[-8.75,39.25],"padding":0}},
"shape":{"field":"g","type":"nominal","scale":{"range":["circle","triangle-down","circle"]},"legend":null},
"fill":{"field":"g","type":"nominal","scale":{"domain":["chow","HFD","KD"],"range":["black","white","#c8c8c8"]},"legend":null}}},
{"mark":{"type":"tick","size":12,"thickness":1.5,"color":"black"},"encoding":{"xOffset":{"field":"g","type":"nominal"},"y":{"aggregate":"mean","field":"v","type":"quantitative"}}},
{"mark":{"type":"errorbar","extent":"stderr","ticks":{"size":7},"color":"black"},"encoding":{"xOffset":{"field":"g","type":"nominal"}}},
{"data":{"values":[{"cat":"dark","v":5150,"s":"*"},{"cat":"light","v":5150,"s":"*"}]},"mark":{"type":"tick","size":36,"thickness":1,"color":"#444"},"encoding":{}},
{"data":{"values":[{"cat":"dark","v":5150,"s":"*"},{"cat":"light","v":5150,"s":"*"}]},"mark":{"type":"text","baseline":"alphabetic","dy":4,"fontSize":11,"color":"black"},"encoding":{"text":{"field":"s"}}}
]},
{"width":268,"height":173,"title":{"text":"D","dx":-48,"offset":-1},
"encoding":{"x":{"field":"t","type":"quantitative","scale":{"domain":[-11.24,14.2],"nice":false,"zero":false},"axis":{"values":[0,12],"labelExpr":"datum.value==0?'7:00':'19:00'","title":null}},
"y":{"field":"v","type":"quantitative","scale":{"domain":[0.6,1.0],"nice":false,"zero":false},"axis":{"values":[0.6,0.7,0.8,0.9,1.0],"format":".1f","title":"RER"}}},
"layer":[
{"data":{"values":[{"t":0,"t2":12,"v":0.6,"v2":1.0}]},"mark":{"type":"rect","color":"#c8c8c8"},"encoding":{"x2":{"field":"t2"},"y2":{"field":"v2"}}},
{"data":{"name":"D"},"mark":{"type":"errorbar","orient":"vertical","ticks":{"size":6},"color":"black"},"encoding":{"yError":{"field":"e"}}},
{"data":{"name":"D"},"mark":{"type":"line","color":"black","strokeWidth":1},"encoding":{"detail":{"field":"g"}}},
{"data":{"name":"D"},"mark":{"type":"point","filled":true,"size":40,"stroke":"black","strokeWidth":1,"opacity":1},
"encoding":{"shape":{"field":"g","type":"nominal","scale":{"range":["circle","triangle-down","circle"]},"legend":null},
"fill":{"field":"g","type":"nominal","scale":{"domain":["chow","HFD","KD"],"range":["black","white","white"]},
"legend":{"orient":"none","legendX":28,"legendY":-13,"title":null,"labelOffset":7,"rowPadding":4,"symbolSize":64,"symbolType":"M-2.2,0L-1,0M1,0L2.2,0M1,0A1,1,0,1,1,-1,0A1,1,0,1,1,1,0Z","encode":{"symbols":{"shape":{"condition":{"test":"datum.value==='KD'","value":"M-2.2,-0.3L-0.9,-0.3M0.9,-0.3L2.2,-0.3M-1.05,-0.8L1.05,-0.8L0,0.95Z"},"value":"M-2.2,0L-1,0M1,0L2.2,0M1,0A1,1,0,1,1,-1,0A1,1,0,1,1,1,0Z"},"stroke":{"value":"black"},"strokeWidth":{"value":1}}}}}}}
]}
],"spacing":72,"bounds":"flush","resolve":{"scale":{"shape":"independent","fill":"independent","xOffset":"independent"},"legend":{"shape":"independent","fill":"independent"}}},
{"hconcat":[
{"width":255,"height":200,"title":{"text":"E","dx":-57,"offset":-1},
"encoding":{"x":{"field":"t","type":"quantitative","scale":{"domain":[0,510],"nice":false},"axis":{"values":[0,200,400],"title":"time (min)"}},
"y":{"field":"v","type":"quantitative","scale":{"domain":[0.6,1.1882],"nice":false,"zero":false},"axis":{"values":[0.6,0.7,0.8,0.9,1.0,1.1],"domain":false,"labelExpr":"datum.value < 0.95 ? format(datum.value + 1, '.1f') : format(datum.value, '.1f')","title":"RER"}}},
"layer":[
{"data":{"values":[{"t":0,"v":0.6,"v2":1.1}]},"mark":{"type":"rule","strokeWidth":2,"color":"black"},"encoding":{"y2":{"field":"v2"}}},
{"data":{"values":[{"t":0,"t2":376,"v":0.982}]},"mark":{"type":"errorbar","orient":"horizontal","ticks":{"size":6},"color":"#555"},"encoding":{"x2":{"field":"t2"}}},
{"data":{"values":[{"t":190,"v":0.982,"s":"fast"}]},"mark":{"type":"text","baseline":"bottom","dy":-3,"fontSize":13,"color":"black"},"encoding":{"text":{"field":"s"}}},
{"data":{"values":[{"t":400,"v":0.932,"s":"inject glucose"}]},"mark":{"type":"text","baseline":"middle","fontSize":13,"color":"black"},"encoding":{"text":{"field":"s"}}},
{"data":{"values":[{"t":386,"v":0.912,"v2":0.83}]},"mark":{"type":"rule","strokeWidth":1.5,"color":"black"},"encoding":{"y2":{"field":"v2"}}},
{"data":{"values":[{"t":386,"v":0.828}]},"mark":{"type":"point","shape":"triangle-down","filled":true,"color":"black","size":45,"opacity":1},"encoding":{}},
{"data":{"name":"E"},"mark":{"type":"errorbar","orient":"vertical","ticks":{"size":6},"color":"black"},"encoding":{"yError":{"field":"e"}}},
{"data":{"name":"E"},"mark":{"type":"line","color":"black","strokeWidth":0.8},"encoding":{"detail":{"field":"g"}}},
{"data":{"name":"E"},"mark":{"type":"point","filled":true,"size":40,"stroke":"black","strokeWidth":1,"opacity":1},
"encoding":{"shape":{"field":"g","type":"nominal","scale":{"range":["circle","triangle-down","circle"]},"legend":null},
"fill":{"field":"g","type":"nominal","scale":{"domain":["chow","HFD","KD"],"range":["black","white","#dddddd"]},
"legend":{"orient":"none","legendX":192,"legendY":9,"title":null,"labelOffset":7,"rowPadding":3,"symbolSize":64,"symbolType":"M-2.2,0L-1,0M1,0L2.2,0M1,0A1,1,0,1,1,-1,0A1,1,0,1,1,1,0Z","encode":{"symbols":{"shape":{"condition":{"test":"datum.value==='KD'","value":"M-2.2,-0.3L-0.9,-0.3M0.9,-0.3L2.2,-0.3M-1.05,-0.8L1.05,-0.8L0,0.95Z"},"value":"M-2.2,0L-1,0M1,0L2.2,0M1,0A1,1,0,1,1,-1,0A1,1,0,1,1,1,0Z"},"stroke":{"value":"black"},"strokeWidth":{"value":1}}}}}}}
]},
{"width":177,"height":201,"title":{"text":"F","dx":-60,"offset":-10},"data":{"name":"F"},
"encoding":{"x":{"field":"g","type":"nominal","scale":{"type":"band","domain":["chow","HFD","KD"],"paddingInner":0.5,"paddingOuter":0.42,"align":0.534},"axis":{"labelAngle":-45,"labelFontSize":12,"title":null}},
"y":{"field":"v","type":"quantitative","scale":{"domain":[-0.05,0.15],"nice":false,"zero":false},"axis":{"values":[-0.05,0,0.05,0.1,0.15],"format":".2f","title":"Δ RER"}}},
"layer":[
{"mark":{"type":"errorbar","extent":"stderr","ticks":{"size":18},"color":"black"},"encoding":{}},
{"mark":{"type":"tick","size":30,"thickness":2,"color":"black"},"encoding":{"y":{"aggregate":"mean","field":"v","type":"quantitative"}}},
{"mark":{"type":"point","filled":true,"size":40,"stroke":"black","strokeWidth":1,"opacity":1},
"encoding":{"xOffset":{"field":"j","type":"nominal","scale":{"type":"point","domain":["l","c","r"],"range":[4.25,22.25],"padding":0}},
"shape":{"field":"g","type":"nominal","scale":{"range":["circle","triangle-down","circle"]},"legend":null},
"fill":{"field":"g","type":"nominal","scale":{"domain":["chow","HFD","KD"],"range":["black","white","#c8c8c8"]},"legend":null}}}
]}
],"spacing":119,"bounds":"flush","resolve":{"scale":{"shape":"independent","fill":"independent","xOffset":"independent"},"legend":{"shape":"independent","fill":"independent"}}}
]
}
